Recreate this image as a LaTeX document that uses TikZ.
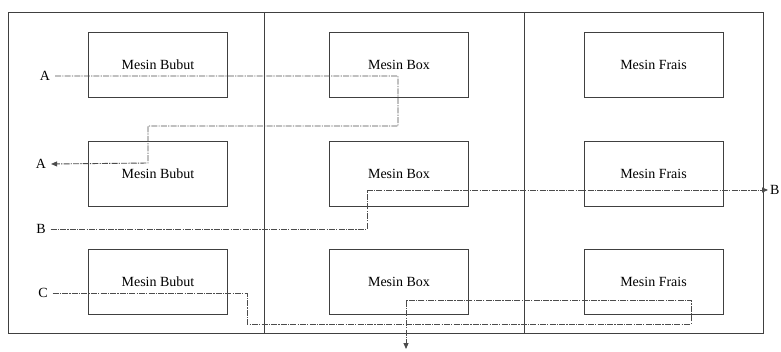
\documentclass[tikz,border=0pt]{standalone}
\usepackage{fontspec}
\setmainfont{Liberation Serif}
\usetikzlibrary{arrows.meta}
\begin{document}
\begin{tikzpicture}[x=1pt,y=-1pt,
  mbox/.style={draw=black!75,line width=0.9pt,minimum width=139pt,minimum height=65pt,inner sep=0pt,font=\fontsize{14}{16}\selectfont},
  lbl/.style={font=\fontsize{14}{16}\selectfont,inner sep=1pt,outer sep=4pt},
  flow/.style={draw=black!70,line width=0.9pt,dash pattern=on 6pt off 1.2pt on 1.2pt off 1.2pt},
  tip/.style={-{Triangle[length=6pt,width=5pt]}}]
\useasboundingbox (0,0) rectangle (781,351);
% frame
\draw[black!75,line width=1pt] (8,12) rectangle (763,333);
\draw[black!75,line width=1pt] (264,12) -- (264,333);
\draw[black!75,line width=1pt] (524,12) -- (524,333);
% machines
\node[mbox] (bu1) at (158,64.5) {Mesin Bubut};
\node[mbox] (bu2) at (158,173.5) {Mesin Bubut};
\node[mbox] (bu3) at (158,282) {Mesin Bubut};
\node[mbox] (bx1) at (399,64.5) {Mesin Box};
\node[mbox] (bx2) at (399,173.5) {Mesin Box};
\node[mbox] (bx3) at (399,282) {Mesin Box};
\node[mbox] (fr1) at (653.5,64.5) {Mesin Frais};
\node[mbox] (fr2) at (653.5,173.5) {Mesin Frais};
\node[mbox] (fr3) at (653.5,282) {Mesin Frais};
% labels
\node[lbl] (a1) at (45,76) {A};
\node[lbl] (a2) at (41,164) {A};
\node[lbl] (b1) at (41,229) {B};
\node[lbl,anchor=west,inner sep=0pt,outer sep=2pt] (b2) at (768,190) {B};
\node[lbl] (c1) at (43,293) {C};
\coordinate (cend) at (406,349);
% flows
\draw[flow,tip] (a1.east) -- (398,76) -- (398,126) -- (148,126) -- (148,163) -- (a2.east);
\draw[flow,tip] (b1.east) -- (367,229) -- (367,190) -- (b2.west);
\draw[flow,tip] (c1.east) -- (247,293) -- (247,324) -- (691,324) -- (691,300) -- (406,300) -- (cend);
\end{tikzpicture}
\end{document}
